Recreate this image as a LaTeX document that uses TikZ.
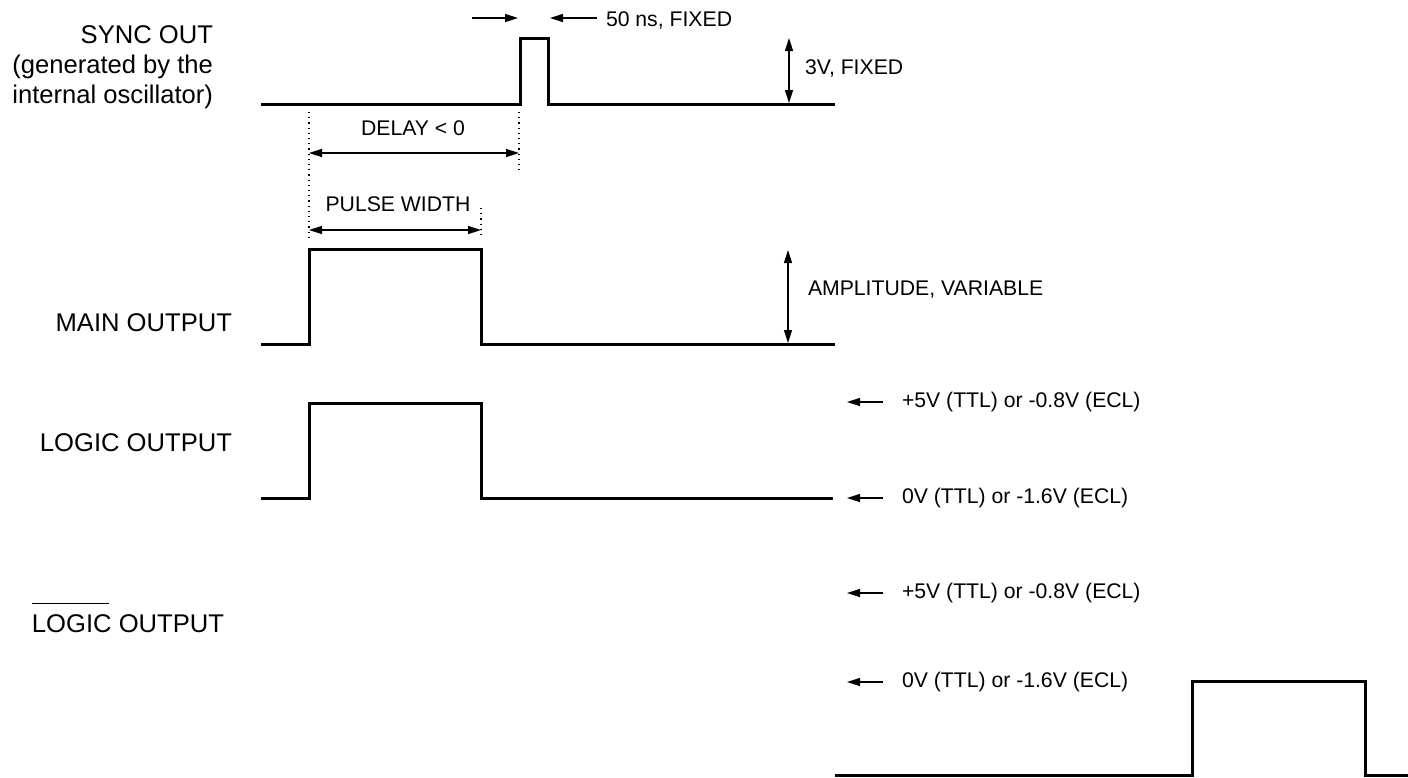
\documentclass[tikz,border=0pt]{standalone}
\usepackage{fontspec}
\setmainfont{Liberation Sans}
\usetikzlibrary{positioning, arrows.meta, calc}

\begin{document}
\begin{tikzpicture}[
  x=0.5pt, y=-0.5pt,
  every node/.style={inner sep=0pt, outer sep=0pt},
  >={Triangle[length=6.5pt, width=4pt]},
  wave/.style={line width=1.5pt, line join=miter},
  dim/.style={<->, line width=0.75pt},
  lead/.style={->, line width=0.75pt},
  guide/.style={dotted, line width=0.6pt},
  sig/.style={font=\fontsize{12.8}{15}\selectfont, align=right},
  note/.style={font=\fontsize{10.6}{13}\selectfont}
]
\useasboundingbox (0,0) rectangle (1408,777);

% signal names
\node[sig, anchor=east] (syncname) at (213,67) {SYNC OUT\\(generated by the\\internal oscillator)};
\node[sig, anchor=base east] (mainname) at (232,331) {MAIN OUTPUT};
\node[sig, anchor=base east] (logicname) at (232,451) {LOGIC OUTPUT};
\node[sig, anchor=base west] (nlogicname) at (32,632)
  {\makebox[0pt][l]{\rule[14pt]{38.5pt}{0.75pt}}LOGIC OUTPUT};

% waveforms
\coordinate (syncUp) at (520,104);
\coordinate (syncDown) at (548,104);
\coordinate (mainUp) at (309,344);
\coordinate (mainDown) at (481,344);
\draw[wave] (261,104) -- (syncUp) -- (520,38) -- (548,38) -- (syncDown) -- (835,104);
\draw[wave] (261,344) -- (mainUp) -- (309,249) -- (481,249) -- (mainDown) -- (835,344);
\draw[wave] (261,498) -- (309,498) -- (309,403) -- (481,403) -- (481,498) -- (833,498);
\draw[wave] (835,775) -- (1192,775) -- (1192,681) -- (1365,681) -- (1365,775) -- (1408,775);

% 50 ns
\coordinate (wa) at (472,18);
\coordinate (wb) at (518,18);
\coordinate (wc) at (597,18);
\coordinate (wd) at (550,18);
\draw[lead] (wa) -- (wb);
\draw[lead] (wc) -- (wd);
\node[note, anchor=west] (widthtxt) at (606,20) {50 ns, FIXED};

% 3 V
\coordinate (va) at (789,38);
\coordinate (vb) at (789,103);
\draw[dim] (va) -- (vb);
\node[note, anchor=west] (volttxt) at (805,68) {3V, FIXED};

% delay
\coordinate (ga) at (309,112);
\coordinate (gb) at (309,240);
\coordinate (gc) at (519,112);
\coordinate (gd) at (519,170);
\draw[guide] (ga) -- (gb);
\draw[guide] (gc) -- (gd);
\coordinate (da) at (309,153);
\coordinate (db) at (519,153);
\draw[dim] (da) -- (db);
\node[note] (delaytxt) at (413,128) {DELAY < 0};

% pulse width
\coordinate (ge) at (481,208);
\coordinate (gf) at (481,238);
\draw[guide] (ge) -- (gf);
\coordinate (pa) at (309,230);
\coordinate (pb) at (481,230);
\draw[dim] (pa) -- (pb);
\node[note] (pulsetxt) at (398,204) {PULSE WIDTH};

% amplitude
\coordinate (aa) at (788,250);
\coordinate (ab) at (788,343);
\draw[dim] (aa) -- (ab);
\node[note, anchor=west] (amptxt) at (808,290) {AMPLITUDE, VARIABLE};

% logic levels
\foreach \y/\txt/\nm in {402/{+5V (TTL) or -0.8V (ECL)}/hi,
                         498/{0V (TTL) or -1.6V (ECL)}/lo,
                         593/{+5V (TTL) or -0.8V (ECL)}/nhi,
                         682/{0V (TTL) or -1.6V (ECL)}/nlo} {
  \coordinate (\nm a) at (883,\y);
  \coordinate (\nm b) at (847,\y);
  \draw[lead] (\nm a) -- (\nm b);
  \node[note, anchor=west] (\nm txt) at (902,\y) {\txt};
}

\end{tikzpicture}
\end{document}
